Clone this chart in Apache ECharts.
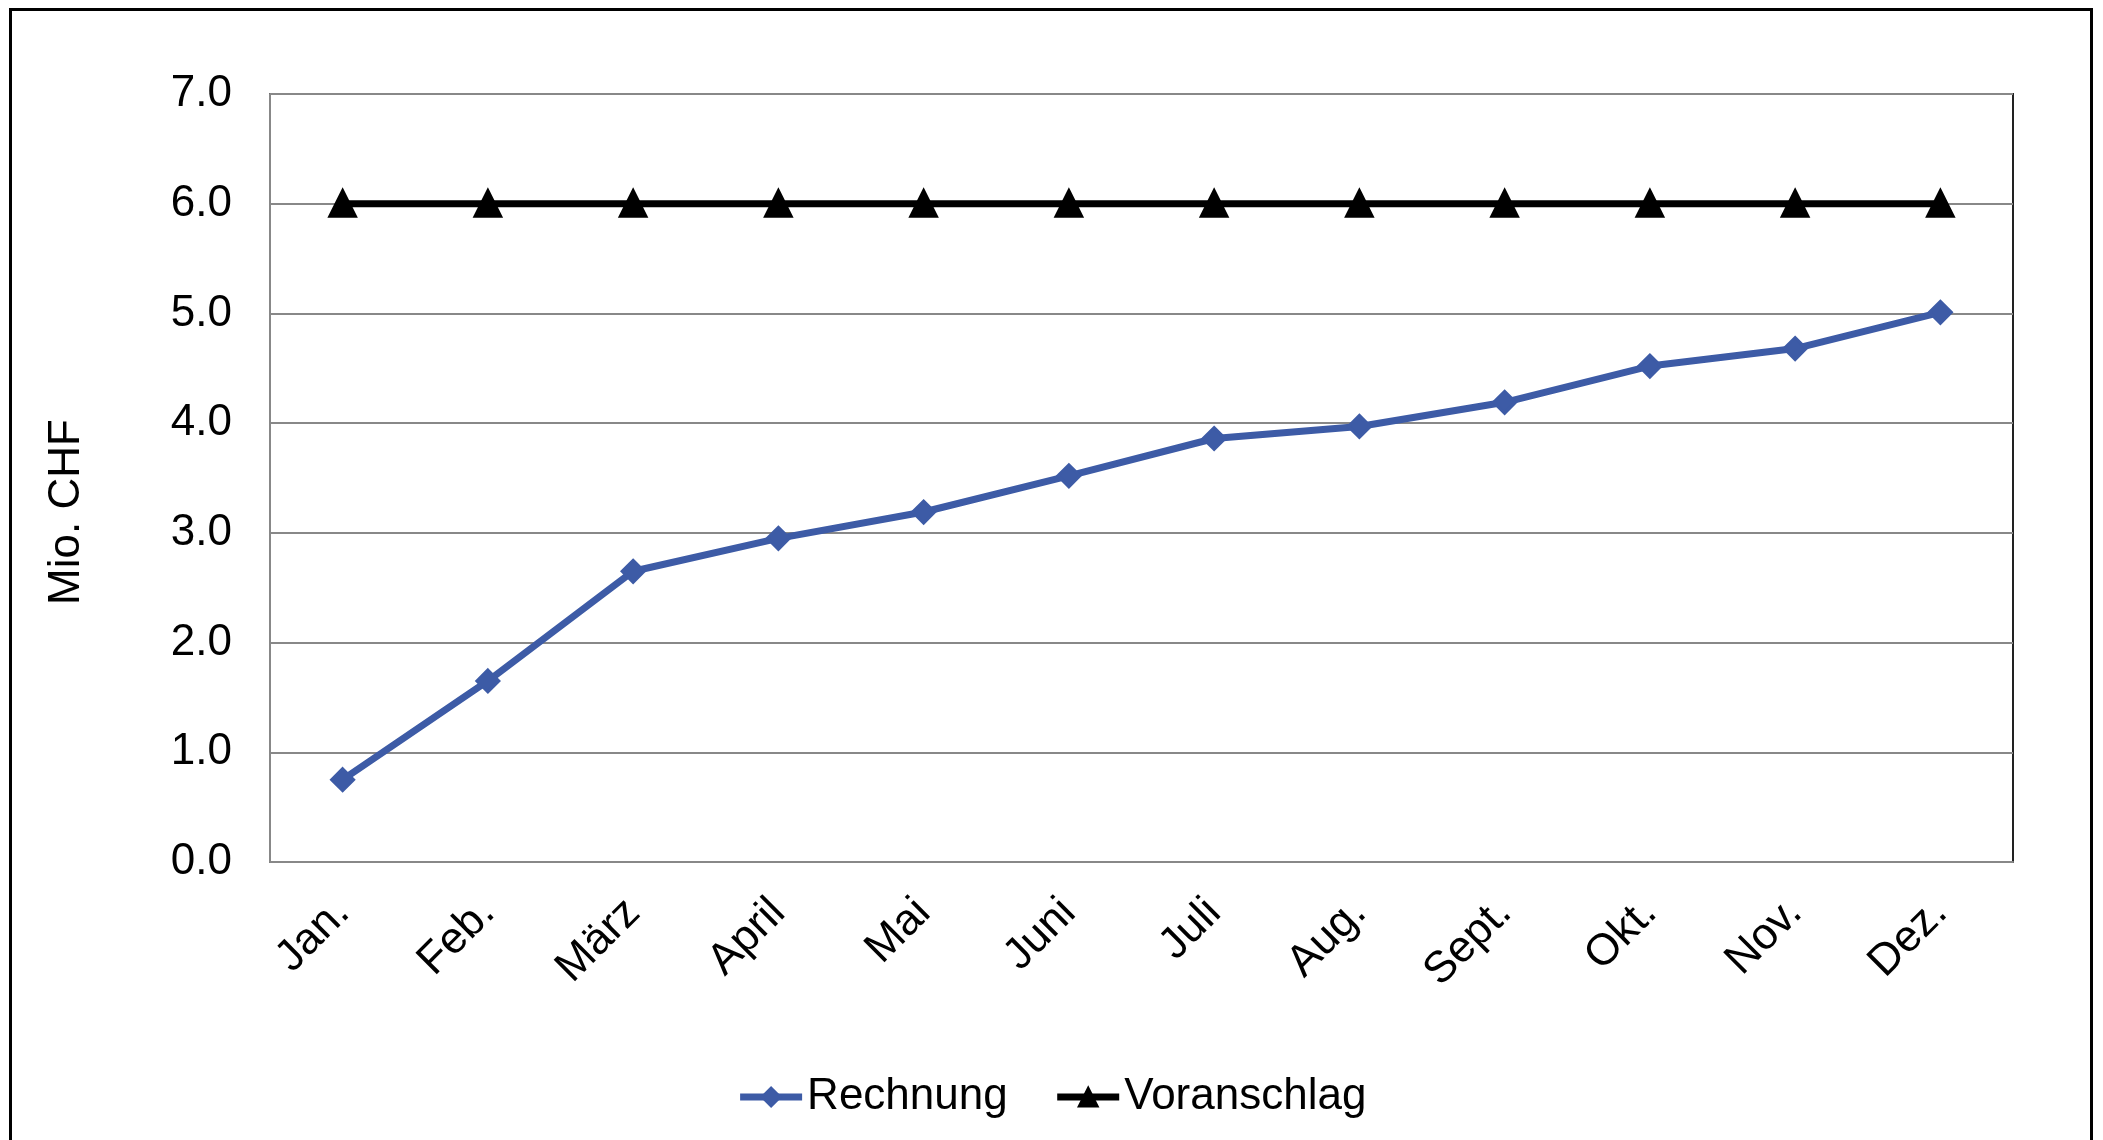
<!DOCTYPE html>
<html>
<head>
<meta charset="utf-8">
<script src="https://cdn.jsdelivr.net/npm/echarts@6/dist/echarts.min.js"></script>
<style>
  html, body { margin: 0; padding: 0; background: #fff; }
  #chart { width: 2103px; height: 1140px; }
</style>
</head>
<body>
<div id="chart"></div>
<script>
var months = ["Jan.", "Feb.", "März", "April", "Mai", "Juni", "Juli", "Aug.", "Sept.", "Okt.", "Nov.", "Dez."];
var rechnung = [0.75, 1.65, 2.65, 2.95, 3.19, 3.52, 3.86, 3.97, 4.19, 4.52, 4.68, 5.01];
var voranschlag = [6.0, 6.0, 6.0, 6.0, 6.0, 6.0, 6.0, 6.0, 6.0, 6.0, 6.0, 6.0];

var font = "'Liberation Sans', Arial, sans-serif";
var chart = echarts.init(document.getElementById("chart"));

chart.setOption({
  animation: false,
  backgroundColor: "#fff",
  textStyle: { fontFamily: font },
  graphic: [{
    type: "rect",
    shape: { x: 10.5, y: 9.5, width: 2081, height: 1200 },
    style: { fill: "none", stroke: "#000", lineWidth: 3 },
    z: 100
  }],
  grid: {
    left: 270, right: 90, top: 94, bottom: 278,
    show: true, borderColor: "#222", borderWidth: 2, backgroundColor: "#fff"
  },
  legend: {
    left: "center",
    top: 1070,
    itemWidth: 62,
    itemHeight: 24,
    itemGap: 46,
    lineStyle: { width: 7 },
    textStyle: { fontSize: 44, color: "#000", fontFamily: font },
    data: ["Rechnung", "Voranschlag"]
  },
  xAxis: {
    type: "category",
    data: months,
    boundaryGap: true,
    axisLine: { lineStyle: { color: "#888", width: 2 } },
    axisTick: { show: false },
    axisLabel: { rotate: 45, margin: 44, fontSize: 44, color: "#000", fontFamily: font }
  },
  yAxis: {
    type: "value",
    min: 0, max: 7, interval: 1,
    name: "Mio. CHF",
    nameLocation: "middle",
    nameRotate: 90,
    nameGap: 181,
    nameTextStyle: { fontSize: 44, color: "#000", fontFamily: font, padding: [0, 68, 0, 0] },
    axisLine: { show: true, lineStyle: { color: "#888", width: 2 } },
    axisTick: { show: false },
    splitLine: { lineStyle: { color: "#888", width: 2 } },
    axisLabel: {
      margin: 38, fontSize: 44, color: "#000", fontFamily: font,
      formatter: function (v) { return v.toFixed(1); }
    }
  },
  series: [{
    name: "Rechnung",
    type: "line",
    data: rechnung,
    symbol: "diamond",
    symbolSize: 22,
    itemStyle: { color: "#3D5BA6", borderColor: "#3D5BA6", borderWidth: 3 },
    lineStyle: { color: "#3D5BA6", width: 7 },
    z: 3
  }, {
    name: "Voranschlag",
    type: "line",
    data: voranschlag,
    symbol: "triangle",
    symbolSize: 24,
    itemStyle: { color: "#000", borderColor: "#000", borderWidth: 4 },
    lineStyle: { color: "#000", width: 7 },
    z: 4
  }]
});
</script>
</body>
</html>
